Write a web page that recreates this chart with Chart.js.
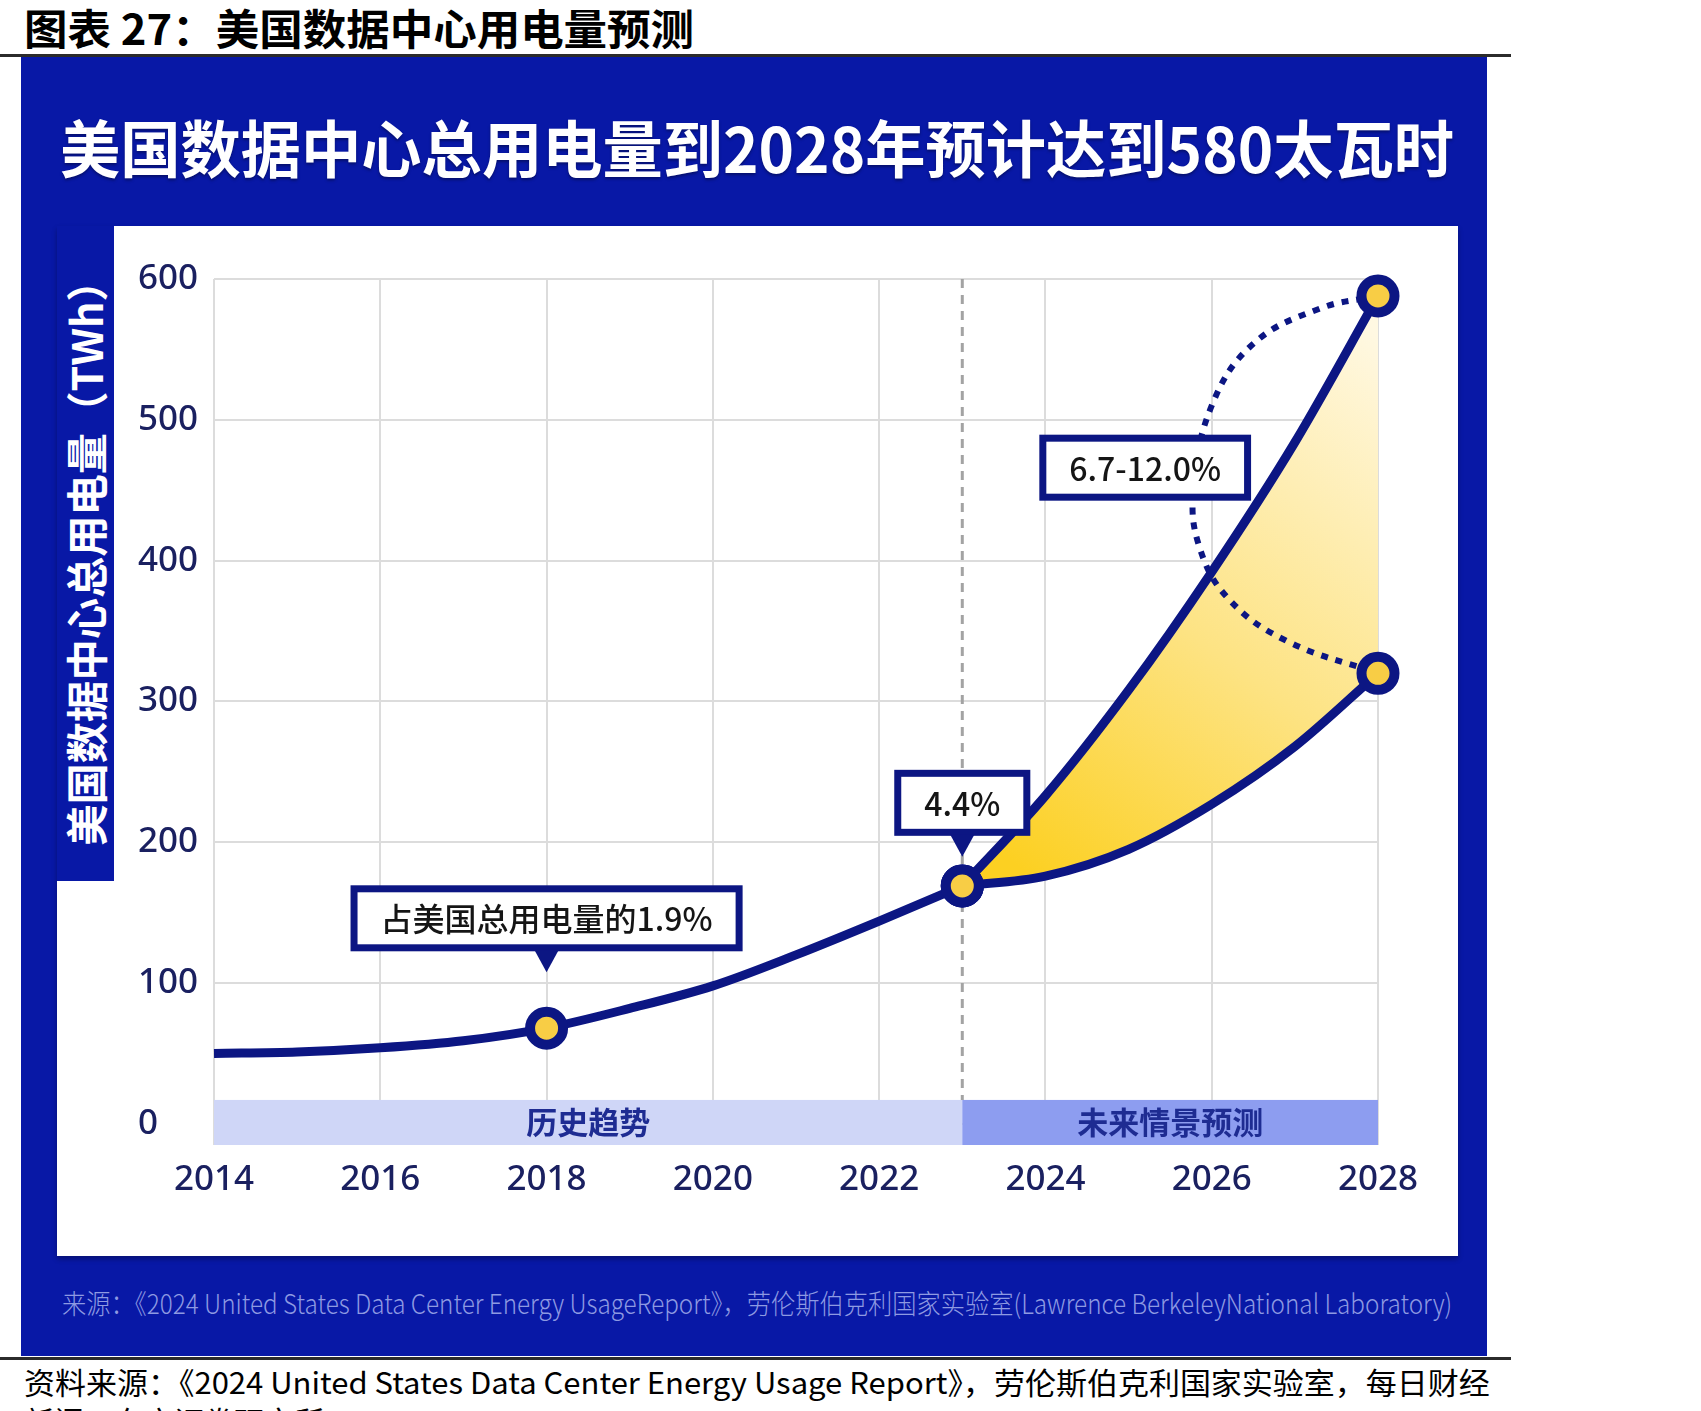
<!DOCTYPE html>
<html lang="zh">
<head>
<meta charset="utf-8">
<title>美国数据中心用电量预测</title>
<script src="https://cdn.jsdelivr.net/npm/chart.js@4.4.1/dist/chart.umd.min.js"></script>
<style>
  html, body { margin: 0; padding: 0; background: #fff; }
  body { width: 1701px; height: 1411px; position: relative; overflow: hidden; font-family: "Noto Sans CJK SC", sans-serif; }
  .txt { position: absolute; white-space: nowrap; transform-origin: 0 50%; }
  .rule { position: absolute; left: 0; width: 1511px; height: 3px; background: #2b2b2b; }
  #panel { position: absolute; left: 21px; top: 57px; width: 1466px; height: 1299px; background: #0818a6; }
  #sheet { position: absolute; left: 57px; top: 226px; width: 1401px; height: 1030px; background: #fff; box-shadow: 0 3px 5px rgba(0,0,0,0.3); }
  #tab { position: absolute; left: 57px; top: 226px; width: 57px; height: 655px; background: #0818a6; }
  #ytitle { position: absolute; left: 85px; top: 553px; white-space: nowrap; color: #fff; font-weight: 700; font-size: 42px; line-height: 1; }
  #wrap { position: absolute; left: 57px; top: 226px; width: 1401px; height: 1030px; }
</style>
</head>
<body>
<div id="head" class="txt" style="left:24px; top:2px; font-size:42px; font-weight:700; line-height:50px; color:#000;">图表 27：美国数据中心用电量预测</div>
<div class="rule" style="top:54px;"></div>
<div id="panel"></div>
<div id="title" class="txt" style="left:60px; top:110px; font-size:62px; font-weight:700; line-height:72px; color:#fff; text-shadow:0 2px 3px rgba(0,0,0,0.35);">美国数据中心总用电量到2028年预计达到580太瓦时</div>
<div id="sheet"></div>
<div id="tab"></div>
<div id="ytitle">美国数据中心总用电量（TWh）</div>
<div id="wrap"><canvas id="chart"></canvas></div>
<div id="foot" class="txt" style="left:62px; top:1285px; font-size:27px; font-weight:300; line-height:36px; color:#8e9ae2;">来源：《2024 United States Data Center Energy UsageReport》，劳伦斯伯克利国家实验室(Lawrence BerkeleyNational Laboratory)</div>
<div class="rule" style="top:1357px;"></div>
<div id="src1" class="txt" style="left:24px; top:1362px; font-size:30px; line-height:38px; color:#000;">资料来源：《2024 United States Data Center Energy Usage Report》，劳伦斯伯克利国家实验室，每日财经</div>
<div id="src2" class="txt" style="left:24px; top:1401px; font-size:30px; line-height:38px; color:#000;">新闻，东方证券研究所</div>
<script>
// 历史趋势 (TWh)
const histYears = [2014, 2015, 2016, 2017, 2018, 2019, 2020, 2021, 2022, 2023];
const histValues = [50, 51, 54, 59, 68, 82, 98, 120, 144, 169];
// 未来情景预测：高/低
const futureYears = [2023, 2024, 2025, 2026, 2027, 2028];
const upperValues = [169, 233, 308, 392, 484, 588];
const lowerValues = [169, 176, 195, 227, 268, 320];
// dotted bracket between the two 2028 scenarios
const arcYears = [2028, 2027.3, 2026.5, 2026.0, 2025.78, 2025.85, 2026.2, 2026.9, 2028];
const arcValues = [588, 579, 554, 510, 450, 410, 373, 343, 320];
// bottom period bands
const bandEdges = [2014, 2023, 2028];
const bandLabels = ['历史趋势', '未来情景预测'];
const markedYears = [2018, 2023, 2028];
// axis ticks
const yTickValues = [0, 100, 200, 300, 400, 500, 600];

const navy = '#0c1683';
const yellow = '#f8cd45';

function fit(id, w) {
  const el = document.getElementById(id);
  el.style.transform = 'scaleX(' + (w / el.scrollWidth) + ')';
}
fit('head', 670);
fit('title', 1394);
fit('foot', 1390);
fit('src1', 1466);
(function () {
  const el = document.getElementById('ytitle');
  const k = 586 / el.offsetWidth;
  el.style.transform = 'translate(-50%, -50%) rotate(-90deg) scaleX(' + k + ')';
})();

const toPts = (xs, ys) => xs.map((x, i) => ({ x: x, y: ys[i] }));
const markRadius = xs => xs.map(x => markedYears.includes(x) ? 16.5 : 0);

const notes = [
  { text: '占美国总用电量的1.9%', year: 2018, value: 146, pointer: true },
  { text: '4.4%', year: 2023, value: 228, pointer: true },
  { text: '6.7-12.0%', year: 2025.2, value: 466, pointer: false }
];

const bandPlugin = {
  id: 'bands',
  beforeDatasetsDraw(chart) {
    const { ctx, chartArea, scales: { x, y } } = chart;
    const colors = ['#cfd6f7', '#8d9df0'];
    const top = y.getPixelForValue(17);
    ctx.save();
    for (let i = 0; i < bandLabels.length; i++) {
      const l = x.getPixelForValue(bandEdges[i]);
      const r = x.getPixelForValue(bandEdges[i + 1]);
      ctx.fillStyle = colors[i];
      ctx.fillRect(l, top, r - l, chartArea.bottom - top);
      ctx.fillStyle = '#1e2c92';
      ctx.font = '700 31px "Noto Sans CJK SC"';
      ctx.textAlign = 'center';
      ctx.textBaseline = 'middle';
      ctx.fillText(bandLabels[i], (l + r) / 2, (top + chartArea.bottom) / 2);
    }
    ctx.restore();
  }
};

const notePlugin = {
  id: 'notes',
  afterDatasetsDraw(chart) {
    const { ctx, scales: { x, y } } = chart;
    ctx.save();
    ctx.font = '500 32px "Noto Sans CJK SC"';
    notes.forEach(n => {
      const cx = x.getPixelForValue(n.year);
      const cy = y.getPixelForValue(n.value);
      const w = ctx.measureText(n.text).width + 60;
      const h = 66;
      const left = cx - w / 2, top = cy - h / 2;
      ctx.fillStyle = navy;
      ctx.fillRect(left, top, w, h);
      ctx.fillStyle = '#fff';
      ctx.fillRect(left + 7, top + 7, w - 14, h - 14);
      if (n.pointer) {
        ctx.fillStyle = navy;
        ctx.beginPath();
        ctx.moveTo(cx - 12, top + h - 1);
        ctx.lineTo(cx + 12, top + h - 1);
        ctx.lineTo(cx, top + h + 21);
        ctx.closePath();
        ctx.fill();
      }
      ctx.fillStyle = '#151515';
      ctx.textAlign = 'center';
      ctx.textBaseline = 'middle';
      ctx.fillText(n.text, cx, cy + 1);
    });
    ctx.restore();
  }
};

function bandFill(context) {
  const chart = context.chart;
  if (!chart.chartArea) return 'rgba(252,208,34,0.6)';
  const x = chart.scales.x, y = chart.scales.y;
  const g = chart.ctx.createLinearGradient(
    x.getPixelForValue(2023.5), y.getPixelForValue(190),
    x.getPixelForValue(2028), y.getPixelForValue(560));
  g.addColorStop(0, '#fcd022');
  g.addColorStop(0.45, '#fde383');
  g.addColorStop(1, '#fff8e2');
  return g;
}

Chart.defaults.font.family = '"Noto Sans CJK SC", sans-serif';

new Chart(document.getElementById('chart'), {
  type: 'line',
  data: {
    datasets: [
      {
        data: toPts(histYears, histValues),
        borderColor: navy,
        borderWidth: 9,
        cubicInterpolationMode: 'monotone',
        pointRadius: markRadius(histYears),
        pointBackgroundColor: yellow,
        pointBorderColor: navy,
        pointBorderWidth: 10,
        fill: false,
        clip: false
      },
      {
        data: toPts(futureYears, upperValues),
        borderColor: navy,
        borderWidth: 9,
        cubicInterpolationMode: 'monotone',
        pointRadius: markRadius(futureYears),
        pointBackgroundColor: yellow,
        pointBorderColor: navy,
        pointBorderWidth: 10,
        fill: '+1',
        backgroundColor: bandFill,
        clip: false
      },
      {
        data: toPts(futureYears, lowerValues),
        borderColor: navy,
        borderWidth: 9,
        cubicInterpolationMode: 'monotone',
        pointRadius: markRadius(futureYears),
        pointBackgroundColor: yellow,
        pointBorderColor: navy,
        pointBorderWidth: 10,
        fill: false,
        clip: false
      },
      {
        data: toPts(arcYears, arcValues),
        borderColor: navy,
        borderWidth: 6,
        borderDash: [7, 8],
        tension: 0.4,
        pointRadius: 0,
        fill: false,
        clip: false
      },
      {
        data: [{ x: 2023, y: 600 }, { x: 2023, y: 17 }],
        borderColor: '#a3a3a3',
        borderWidth: 3,
        borderDash: [9, 7],
        pointRadius: 0,
        fill: false
      }
    ]
  },
  options: {
    responsive: true,
    maintainAspectRatio: false,
    animation: false,
    layout: { padding: { left: 81, right: 80, top: 53, bottom: 0 } },
    plugins: {
      legend: { display: false },
      tooltip: { enabled: false },
      filler: { drawTime: 'beforeDatasetsDraw' }
    },
    scales: {
      x: {
        type: 'linear',
        min: 2014,
        max: 2028,
        grid: { color: '#dcdcdc', lineWidth: 2, drawTicks: false },
        border: { display: false },
        ticks: {
          stepSize: 2,
          padding: 14,
          color: '#1a2060',
          font: { family: '"Noto Sans", sans-serif', size: 35, weight: '500' },
          callback: v => String(v)
        },
        afterFit: s => { s.height = 111; }
      },
      y: {
        min: -15,
        max: 600,
        grid: { color: '#dcdcdc', lineWidth: 2, drawTicks: false },
        border: { display: false },
        ticks: {
          autoSkip: false,
          crossAlign: 'far',
          color: '#1a2060',
          font: { family: '"Noto Sans", sans-serif', size: 35, weight: '500' }
        },
        afterBuildTicks: s => { s.ticks = yTickValues.map(v => ({ value: v })); },
        afterFit: s => { s.width = 76; }
      }
    }
  },
  plugins: [bandPlugin, notePlugin]
});
</script>
</body>
</html>
